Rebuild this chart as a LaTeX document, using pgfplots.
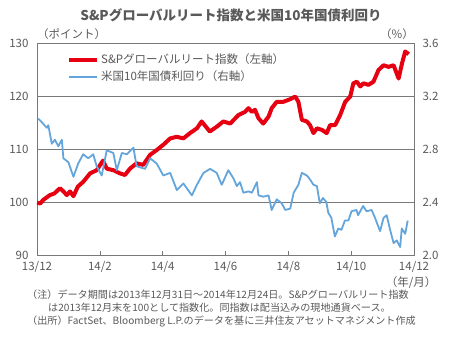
\documentclass[border=0pt]{standalone}
\usepackage{fontspec}
\setmainfont{Noto Sans CJK JP}
\usepackage{pgfplots}
\pgfplotsset{compat=1.18}
\definecolor{txt}{RGB}{89,89,89}
\definecolor{redl}{RGB}{230,0,18}
\definecolor{bluel}{RGB}{100,165,220}
\definecolor{gridc}{RGB}{120,120,120}
\newcommand{\tickfont}{\fontsize{11.5}{12}\selectfont}
\begin{document}
\begin{tikzpicture}[x=1pt,y=1pt]
\path[use as bounding box] (-37,-101) rectangle (425,255);
\begin{axis}[
  at={(0,0)}, anchor=south west,
  scale only axis, width=377pt, height=212pt,
  xmin=0, xmax=12, ymin=90, ymax=130,
  xtick={0,2,...,12},
  xticklabels={13/12,14/2,14/4,14/6,14/8,14/10,14/12},
  ytick={90,100,110,120,130},
  ymajorgrids, grid style={gridc, line width=0.6pt},
  axis line style={gridc, line width=0.6pt},
  xtick pos=bottom, tick align=inside,
  xtick style={gridc, line width=0.6pt}, major tick length=4pt,
  ytick style={draw=none},
  ytick pos=left,
  tick label style={font=\tickfont, text=txt},
  xticklabel style={yshift=-3pt},
  yticklabel style={xshift=-5pt},
  /pgf/number format/assume math mode=true,
  legend cell align=left,
  legend image code/.code={\draw[#1] (0pt,0pt) -- (28pt,0pt);},
  legend style={draw=none, fill=none, at={(0.0796,0.958)}, anchor=north west,
    font=\fontsize{11.5}{12}\selectfont, text=txt, row sep=1.5pt, inner sep=0pt},
]
\addplot[redl, line width=4pt, line join=round] coordinates {
(0,99.9) (0.1,99.7) (0.2,100.4) (0.41,101.3) (0.55,101.6) (0.73,102.6) (0.84,102.0)
(0.95,101.3) (1.05,102.0) (1.16,101.1) (1.3,102.9) (1.47,103.8) (1.69,105.4) (1.9,106.0)
(2.1,107.8) (2.22,106.3) (2.43,106.0) (2.64,105.4) (2.8,105.1) (2.96,106.3) (3.17,107.3)
(3.38,107.0) (3.6,108.9) (3.81,109.8) (4.02,110.8) (4.24,112.0) (4.45,112.3) (4.66,112.0)
(4.87,113.0) (5.09,113.9) (5.24,115.2) (5.5,113.3) (5.72,114.2) (5.93,115.2) (6.15,114.8)
(6.41,116.4) (6.62,117.0) (6.73,117.7) (6.84,117.0) (6.94,117.4) (7.05,115.8) (7.2,114.8)
(7.37,116.1) (7.47,117.7) (7.63,118.9) (7.84,118.9) (8.06,119.4) (8.22,119.9) (8.32,118.9)
(8.43,115.5) (8.59,115.2) (8.69,114.5) (8.8,113.0) (8.91,113.9) (9.07,113.6) (9.22,113.0)
(9.33,114.5) (9.49,114.5) (9.65,116.4) (9.81,118.9) (9.97,119.9) (10.07,122.4) (10.18,122.7)
(10.29,121.8) (10.39,122.4) (10.55,122.1) (10.71,122.7) (10.87,124.9) (11.03,125.8)
(11.19,125.5) (11.35,125.8) (11.51,123.3) (11.62,126.2) (11.72,128.4) (11.83,127.9)
};
\addlegendentry{S\&Pグローバルリート指数（左軸）}
\addlegendimage{bluel, line width=2pt}
\addlegendentry{米国10年国債利回り（右軸）}
\end{axis}
\begin{axis}[
  at={(0,0)}, anchor=south west,
  scale only axis, width=377pt, height=212pt,
  xmin=0, xmax=12, ymin=2, ymax=3.6,
  axis x line=none, axis y line*=right,
  axis line style={gridc, line width=0.6pt},
  ytick={2.0,2.4,2.8,3.2,3.6},
  ytick style={draw=none},
  yticklabel style={font=\tickfont, text=txt, xshift=5pt,
    /pgf/number format/.cd, fixed, fixed zerofill, precision=1},
  /pgf/number format/assume math mode=true,
]
\addplot[bluel, line width=1.8pt, line join=round] coordinates {
(0.04,3.03) (0.2,2.99) (0.31,2.96) (0.36,2.98) (0.47,2.84) (0.57,2.87) (0.68,2.82)
(0.79,2.87) (0.84,2.73) (1.0,2.70) (1.16,2.59) (1.31,2.69) (1.47,2.76) (1.63,2.73)
(1.79,2.76) (1.9,2.67) (2.06,2.60) (2.22,2.79) (2.43,2.77) (2.54,2.64) (2.7,2.77)
(2.86,2.76) (3.07,2.81) (3.17,2.67) (3.44,2.65) (3.6,2.73) (3.81,2.69) (4.02,2.60)
(4.24,2.62) (4.45,2.49) (4.66,2.54) (4.93,2.45) (5.09,2.53) (5.3,2.62) (5.51,2.65)
(5.72,2.62) (5.88,2.53) (6.09,2.64) (6.25,2.58) (6.36,2.52) (6.46,2.55) (6.57,2.47)
(6.73,2.48) (6.84,2.47) (7.0,2.55) (7.05,2.45) (7.2,2.44) (7.37,2.45) (7.47,2.34)
(7.63,2.42) (7.79,2.39) (7.9,2.34) (8.06,2.35) (8.17,2.47) (8.32,2.53) (8.43,2.62)
(8.59,2.60) (8.69,2.57) (8.8,2.53) (8.91,2.52) (9.0,2.39) (9.1,2.43) (9.21,2.40)
(9.27,2.32) (9.37,2.28) (9.48,2.14) (9.59,2.20) (9.69,2.19) (9.8,2.26) (9.91,2.26)
(10.01,2.33) (10.17,2.34) (10.22,2.30) (10.38,2.37) (10.49,2.33) (10.65,2.34)
(10.76,2.28) (10.92,2.18) (11.03,2.28) (11.13,2.30) (11.24,2.19) (11.35,2.09)
(11.45,2.11) (11.56,2.06) (11.61,2.20) (11.72,2.16) (11.8,2.26)
};
\end{axis}
\node[font=\fontsize{13.5}{14}\selectfont\bfseries, text=txt] at (194,240)
  {S\&Pグローバルリート指数と米国10年国債利回り};
\node[font=\tickfont, text=txt, anchor=west, inner sep=0pt] at (0,221) {（ポイント）};
\node[font=\tickfont, text=txt, anchor=east, inner sep=0pt] at (377,221) {（\%）};
\node[font=\tickfont, text=txt, inner sep=0pt] at (374,-28) {（年/月）};
\begin{scope}[every node/.style={font=\fontsize{10.1}{11}\selectfont, text=txt, anchor=west, inner sep=0pt}]
\node at (-10,-40) {（注）データ期間は2013年12月31日～2014年12月24日。S\&Pグローバルリート指数};
\node at (11,-53) {は2013年12月末を100として指数化。同指数は配当込みの現地通貨ベース。};
\node at (-10,-66) {（出所）FactSet、Bloomberg L.P.のデータを基に三井住友アセットマネジメント作成};
\end{scope}
\end{tikzpicture}
\end{document}
